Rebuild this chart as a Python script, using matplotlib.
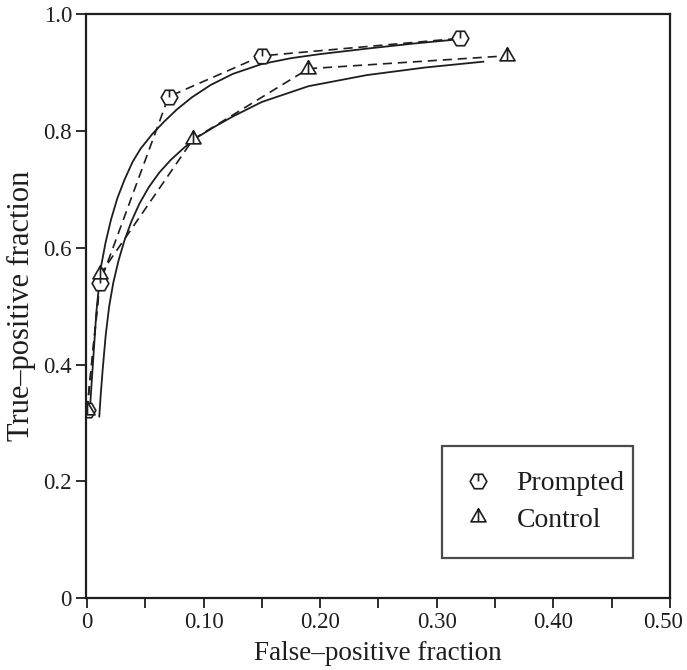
import numpy as np
import matplotlib.pyplot as plt
import matplotlib.transforms as mtransforms
from matplotlib.path import Path
from matplotlib.lines import Line2D

plt.rcParams['font.family'] = ['Liberation Serif', 'DejaVu Serif']

INK = '#1e1e1e'

# observed operating points (false-positive fraction, true-positive fraction)
prompted_fpf = [0.0, 0.011, 0.070, 0.150, 0.320]
prompted_tpf = [0.322, 0.539, 0.859, 0.929, 0.959]
control_fpf = [0.0, 0.0115, 0.091, 0.190, 0.360]
control_tpf = [0.322, 0.555, 0.786, 0.907, 0.929]

# fitted ROC curves
prompted_fit_fpf = [0.002, 0.004, 0.006, 0.008, 0.0105, 0.012, 0.016, 0.0205, 0.026,
                    0.032, 0.039, 0.046, 0.056, 0.066, 0.077, 0.090, 0.106, 0.125,
                    0.150, 0.175, 0.200, 0.243, 0.280, 0.317]
prompted_fit_tpf = [0.310, 0.370, 0.430, 0.490, 0.540, 0.568, 0.610, 0.648, 0.685,
                    0.716, 0.747, 0.770, 0.795, 0.816, 0.837, 0.858, 0.879, 0.898,
                    0.915, 0.925, 0.932, 0.942, 0.950, 0.957]
control_fit_fpf = [0.0105, 0.0118, 0.0134, 0.016, 0.019, 0.0225, 0.027, 0.032, 0.038,
                   0.045, 0.053, 0.062, 0.072, 0.0835, 0.095, 0.109, 0.125, 0.150,
                   0.190, 0.240, 0.290, 0.340]
control_fit_tpf = [0.311, 0.350, 0.391, 0.450, 0.500, 0.540, 0.578, 0.612, 0.645,
                   0.676, 0.704, 0.729, 0.751, 0.772, 0.790, 0.807, 0.825, 0.850,
                   0.877, 0.896, 0.909, 0.919]

xticks = [0, 0.10, 0.20, 0.30, 0.40, 0.50]
xtick_labels = ['0', '0.10', '0.20', '0.30', '0.40', '0.50']
yticks = [0, 0.2, 0.4, 0.6, 0.8, 1.0]
ytick_labels = ['0', '0.2', '0.4', '0.6', '0.8', '1.0']


# hexagon with a small hand from the top to the centre
def hex_marker():
    ang = np.radians(np.arange(0, 360, 60))
    pts = [(np.cos(a), np.sin(a)) for a in ang]
    verts = pts + [pts[0], (0, 0.866), (0, 0)]
    codes = [Path.MOVETO] + [Path.LINETO] * 5 + [Path.CLOSEPOLY, Path.MOVETO, Path.LINETO]
    return Path(verts, codes)


# triangle with a line from the apex to the base
def tri_marker():
    verts = [(0, 1), (-0.866, -0.5), (0.866, -0.5), (0, 1), (0, 1), (0, -0.5)]
    codes = [Path.MOVETO, Path.LINETO, Path.LINETO, Path.CLOSEPOLY, Path.MOVETO, Path.LINETO]
    return Path(verts, codes)


HEX = hex_marker()
TRI = tri_marker()

fig = plt.figure(figsize=(6.87, 6.70), dpi=100)
ax = fig.add_axes([0.125, 0.1075, 0.85, 0.871])

dash = (0, (5.5, 3.5))
ax.plot(prompted_fit_fpf, prompted_fit_tpf, color=INK, lw=1.3)
ax.plot(control_fit_fpf, control_fit_tpf, color=INK, lw=1.3)
ax.plot(prompted_fpf, prompted_tpf, color=INK, lw=1.2, linestyle=dash)
ax.plot(control_fpf, control_tpf, color=INK, lw=1.2, linestyle=dash)
ax.plot(prompted_fpf, prompted_tpf, linestyle='none', marker=HEX, markersize=12,
        markerfacecolor='white', markeredgecolor=INK, markeredgewidth=1.2)
ax.plot(control_fpf, control_tpf, linestyle='none', marker=TRI, markersize=12.5,
        markerfacecolor='white', markeredgecolor=INK, markeredgewidth=1.2)

ax.set_xlim(-0.001, 0.5)
ax.set_ylim(0, 1.0)

ax.set_xticks(xticks)
ax.set_xticklabels(xtick_labels)
ax.set_xticks(np.arange(0.05, 0.5, 0.1), minor=True)
ax.set_yticks(yticks)
ax.set_yticklabels(ytick_labels)

ax.tick_params(axis='x', which='both', direction='out', length=7, width=1.3,
               color=INK, labelsize=16.5, labelcolor=INK, pad=3)
ax.tick_params(axis='y', which='both', direction='out', length=7, width=1.3,
               color=INK, labelsize=16.5, labelcolor=INK, pad=3)
for s in ax.spines.values():
    s.set_linewidth(1.6)
    s.set_color(INK)

# nudge the last x label in so it stays inside the figure
last = ax.get_xticklabels()[-1]
last.set_transform(last.get_transform() +
                   mtransforms.ScaledTranslation(-7 / 100, 0, fig.dpi_scale_trans))

ax.set_xlabel('False–positive fraction', fontsize=19.5, color=INK, labelpad=6)
ax.set_ylabel('True–positive fraction', fontsize=22, color=INK, labelpad=5)

handles = [
    Line2D([], [], linestyle='none', marker=HEX, markersize=12, markerfacecolor='white',
           markeredgecolor=INK, markeredgewidth=1.2),
    Line2D([], [], linestyle='none', marker=TRI, markersize=12.5, markerfacecolor='white',
           markeredgecolor=INK, markeredgewidth=1.2),
]
leg = ax.legend(handles, ['Prompted', 'Control'], loc='lower left',
                bbox_to_anchor=(0.609, 0.0685, 0.328, 0.19), mode='expand',
                fontsize=20, fancybox=False, borderpad=0.9, labelspacing=0.4,
                handlelength=0.8, handletextpad=1.0, borderaxespad=0)
leg.get_frame().set_edgecolor(INK)
leg.get_frame().set_linewidth(1.6)
for t in leg.get_texts():
    t.set_color(INK)

fig.savefig('out.png', dpi=100)
